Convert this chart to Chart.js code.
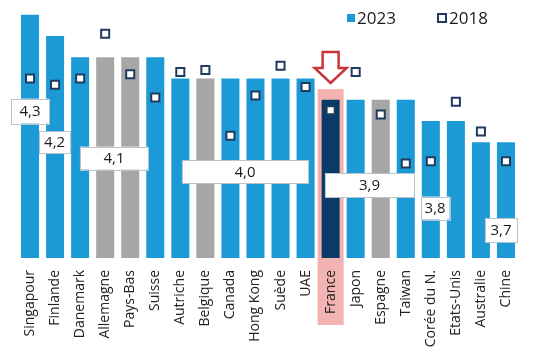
<!DOCTYPE html>
<html>
<head>
<meta charset="utf-8">
<script src="https://cdn.jsdelivr.net/npm/chart.js@4/dist/chart.umd.min.js"></script>
<style>
html,body{margin:0;padding:0;background:#fff;}
#wrap{width:545px;height:357px;position:relative;}
</style>
</head>
<body>
<div id="wrap"><canvas id="c" width="545" height="357"></canvas></div>
<script>
// ---- data ----
const categories = ['Singapour','Finlande','Danemark','Allemagne','Pays-Bas','Suisse','Autriche','Belgique','Canada','Hong Kong','Suède','UAE','France','Japon','Espagne','Taiwan','Corée du N.','Etats-Unis','Australie','Chine'];
const values2023 = [4.3,4.2,4.1,4.1,4.1,4.1,4.0,4.0,4.0,4.0,4.0,4.0,3.9,3.9,3.9,3.9,3.8,3.8,3.7,3.7];
const values2018 = [4.00,3.97,4.00,4.21,4.02,3.91,4.03,4.04,3.73,3.92,4.06,3.96,3.85,4.03,3.83,3.60,3.61,3.89,3.75,3.61];
const greyCategories = ['Allemagne','Pays-Bas','Belgique','Espagne'];
const focusCategory = 'France';
const seriesNames = ['2023','2018'];
const groupLabels = ['4,3','4,2','4,1','4,0','3,9','3,8','3,7'];

// ---- styles / placement (not data) ----
const BLUE = '#1c9ad6', GREY = '#a6a6a6', NAVY = '#0c3a68', MARK = '#1f3c5e';
const PINK = '#f3b3b2', RED = '#c9353a';
// box placement: centre in category index units, width px, centre y in value units, height px
const groupBoxes = [
  {i:0.0,  w:38,  v:3.846, h:25},
  {i:0.98, w:31,  v:3.701, h:22},
  {i:3.35, w:68,  v:3.625, h:23},
  {i:8.58, w:126, v:3.562, h:23},
  {i:13.55,w:89,  v:3.498, h:24},
  {i:16.17,w:29,  v:3.390, h:23},
  {i:18.8, w:32,  v:3.287, h:24}
];

const barColors = categories.map(c => c === focusCategory ? NAVY : (greyCategories.includes(c) ? GREY : BLUE));

const decor = {
  id:'decor',
  beforeDraw(chart){
    const ctx = chart.ctx, x = chart.scales.x, y = chart.scales.y;
    const fi = categories.indexOf(focusCategory);
    const cx = x.getPixelForValue(fi);
    const top = y.getPixelForValue(3.950);
    ctx.save();
    ctx.fillStyle = PINK;
    ctx.fillRect(cx - 13, top, 26, chart.chartArea.bottom + 67 - top);
    ctx.restore();
  },
  afterDatasetsDraw(chart){
    const ctx = chart.ctx, x = chart.scales.x, y = chart.scales.y;
    ctx.save();
    // value boxes
    ctx.font = '15px "Open Sans", sans-serif';
    ctx.textAlign = 'center';
    ctx.textBaseline = 'middle';
    groupBoxes.forEach((b, k) => {
      const p0 = x.getPixelForValue(0), p1 = x.getPixelForValue(1);
      const cx = p0 + (p1 - p0) * b.i;
      const cy = y.getPixelForValue(b.v);
      ctx.fillStyle = '#fff';
      ctx.fillRect(cx - b.w/2, cy - b.h/2, b.w, b.h);
      ctx.strokeStyle = '#b9c3cc';
      ctx.lineWidth = 1;
      ctx.strokeRect(Math.round(cx - b.w/2) + 0.5, Math.round(cy - b.h/2) + 0.5, Math.round(b.w), Math.round(b.h));
      ctx.fillStyle = '#1a1a1a';
      ctx.fillText(groupLabels[k], cx, cy + 1);
    });
    // arrow above focus bar
    const fi = categories.indexOf(focusCategory);
    const ax = x.getPixelForValue(fi);
    const t = 52, m = 68, tip = 83;
    ctx.beginPath();
    ctx.moveTo(ax - 8, t);
    ctx.lineTo(ax + 8, t);
    ctx.lineTo(ax + 8, m);
    ctx.lineTo(ax + 16, m);
    ctx.lineTo(ax, tip);
    ctx.lineTo(ax - 16, m);
    ctx.lineTo(ax - 8, m);
    ctx.closePath();
    ctx.fillStyle = '#fff';
    ctx.fill();
    ctx.strokeStyle = RED;
    ctx.lineWidth = 2.5;
    ctx.lineJoin = 'miter';
    ctx.stroke();
    // legend
    ctx.font = '17px "Open Sans", sans-serif';
    ctx.textAlign = 'left';
    ctx.textBaseline = 'middle';
    ctx.fillStyle = BLUE;
    ctx.fillRect(347, 14, 8, 8);
    ctx.fillStyle = '#1a1a1a';
    ctx.fillText(seriesNames[0], 357, 19);
    ctx.strokeStyle = MARK;
    ctx.lineWidth = 2;
    ctx.strokeRect(438, 14, 8, 8);
    ctx.fillStyle = '#1a1a1a';
    ctx.fillText(seriesNames[1], 449, 19);
    ctx.restore();
  }
};

new Chart(document.getElementById('c'), {
  type:'bar',
  data:{
    labels: categories,
    datasets:[
      {
        type:'line',
        label: seriesNames[1],
        data: values2018,
        showLine:false,
        pointStyle:'rect',
        pointRadius:5.7,
        pointBorderWidth:2,
        pointBackgroundColor:'#fff',
        pointBorderColor:MARK,
        order:0
      },
      {
        label: seriesNames[0],
        data: values2023,
        backgroundColor: barColors,
        borderWidth:0,
        categoryPercentage:0.72,
        barPercentage:1.0,
        order:1
      }
    ]
  },
  plugins:[decor],
  options:{
    responsive:false,
    animation:false,
    events:[],
    layout:{padding:{left:17.5,right:26.5,top:0,bottom:0}},
    plugins:{legend:{display:false},tooltip:{enabled:false}},
    scales:{
      x:{
        grid:{display:false},
        border:{display:false},
        ticks:{
          autoSkip:false,
          minRotation:90,
          maxRotation:90,
          padding:4,
          color:'#222',
          font:{family:'"Open Sans", sans-serif', size:14}
        },
        afterFit(s){ s.height = 99; }
      },
      y:{
        display:false,
        min:3.155,
        max:4.333
      }
    }
  }
});
</script>
</body>
</html>
